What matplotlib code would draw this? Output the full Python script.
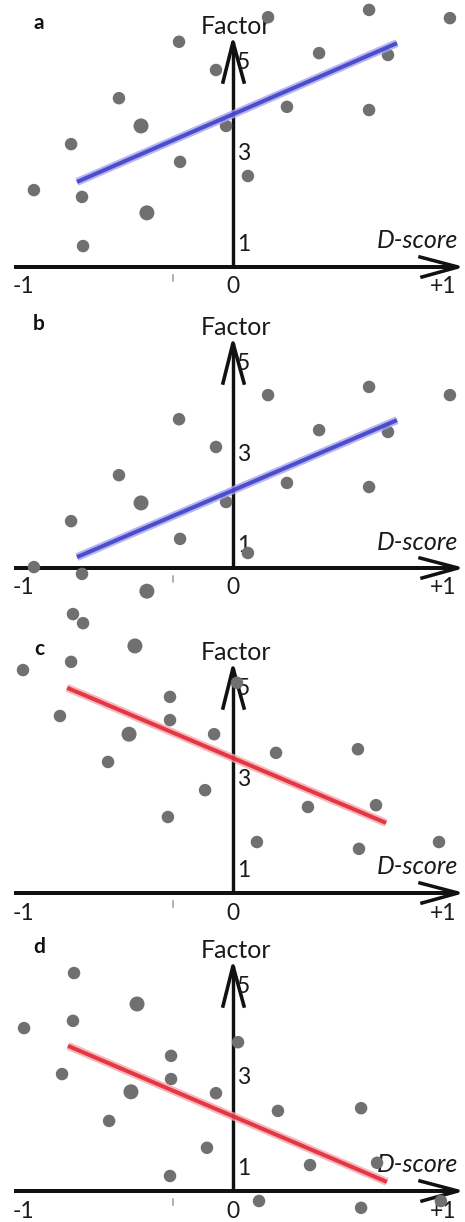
import matplotlib.pyplot as plt

plt.rcParams['font.family'] = ['Lato', 'DejaVu Sans']

W, H = 465, 1222
PX = 0.72          # points per pixel at dpi 100
UNIT_X = 210.0     # pixels per D-score unit
UNIT_Y = 45.5      # pixels per factor unit
Y0 = 0.5           # factor value where the D-score axis crosses

panel_labels = ['a', 'b', 'c', 'd']
axis_rows = [267, 568, 893, 1191]   # pixel row of each D-score axis

# panel a: positive trend
a_x = [0.167, 0.648, 1.033, -0.257, 0.410, 0.738, -0.081, -0.543, 0.257, 0.648,
       -0.438, -0.033, -0.771, -0.252, 0.071, -0.948, -0.719, -0.410, -0.714]
a_y = [5.99, 6.15, 5.97, 5.45, 5.20, 5.16, 4.83, 4.21, 4.02, 3.95,
       3.60, 3.60, 3.20, 2.81, 2.50, 2.19, 2.04, 1.69, 0.96]
a_big = [10, 17]
a_fit_x = [-0.743, 0.781]
a_fit_y = [2.37, 5.42]

# panel b: same pattern, shifted down
b_x = [0.167, 0.648, 1.033, -0.257, 0.410, 0.738, -0.081, -0.543, 0.257, 0.648,
       -0.438, -0.033, -0.771, -0.252, 0.071, -0.948, -0.719, -0.410]
b_y = [4.30, 4.48, 4.30, 3.77, 3.53, 3.49, 3.16, 2.54, 2.37, 2.28,
       1.93, 1.95, 1.53, 1.14, 0.83, 0.52, 0.37, -0.01]
b_big = [10, 17]
b_fit_x = [-0.743, 0.781]
b_fit_y = [0.74, 3.75]

# panel c: negative trend
c_x = [-0.762, -0.714, -0.467, -0.771, -1.000, 0.019, -0.300, -0.824, -0.300, -0.495,
       -0.090, 0.205, 0.595, -0.595, -0.133, 0.357, 0.681, -0.310, 0.114, 0.600, 0.981]
c_y = [6.63, 6.43, 5.93, 5.58, 5.40, 5.12, 4.81, 4.39, 4.30, 3.99,
       3.99, 3.58, 3.66, 3.38, 2.76, 2.39, 2.43, 2.17, 1.62, 1.47, 1.62]
c_big = [2, 9]
c_fit_x = [-0.790, 0.729]
c_fit_y = [5.01, 2.04]

# panel d: negative trend, shifted down
d_x = [-0.757, -0.457, -0.762, -0.995, 0.024, -0.295, -0.814, -0.295, -0.486, -0.081,
       0.214, 0.610, -0.590, -0.124, 0.367, 0.686, -0.300, 0.124, 0.610, 0.990]
d_y = [5.29, 4.61, 4.24, 4.08, 3.77, 3.47, 3.07, 2.96, 2.68, 2.65,
       2.26, 2.32, 2.04, 1.45, 1.07, 1.12, 0.83, 0.28, 0.13, 0.28]
d_big = [1, 8]
d_fit_x = [-0.786, 0.733]
d_fit_y = [3.69, 0.70]

panels = [
    (a_x, a_y, a_big, a_fit_x, a_fit_y, 'blue'),
    (b_x, b_y, b_big, b_fit_x, b_fit_y, 'blue'),
    (c_x, c_y, c_big, c_fit_x, c_fit_y, 'red'),
    (d_x, d_y, d_big, d_fit_x, d_fit_y, 'red'),
]

fit_colours = {'blue': ('#a4a4f2', '#3b3bc6'), 'red': ('#f5a6ab', '#e0202e')}

y_ticks = [1, 3, 5]
x_ticks = [-1, 0, 1]
x_tick_text = ['-1', '0', '+1']

fig = plt.figure(figsize=(W / 100, H / 100), dpi=100)

below, above = 40, 290
for i, (xs, ys, big, fx, fy, col) in enumerate(panels):
    row = axis_rows[i]
    ax = fig.add_axes([0, (H - row - below) / H, 1, (below + above) / H])
    ax.set_xlim(-233 / UNIT_X, (W - 233) / UNIT_X)
    ax.set_ylim(Y0 - below / UNIT_Y, Y0 + above / UNIT_Y)
    ax.axis('off')

    # axes with open arrow heads
    x_left, x_tip = -219 / UNIT_X, 225 / UNIT_X
    y_tip = Y0 + 225 / UNIT_Y
    ax.plot([x_left, x_tip], [Y0, Y0], color='#111111', lw=4 * PX,
            solid_capstyle='butt', clip_on=False)
    ax.plot([x_tip - 38 / UNIT_X, x_tip, x_tip - 36 / UNIT_X],
            [Y0 + 10 / UNIT_Y, Y0, Y0 - 10 / UNIT_Y],
            color='#111111', lw=3.5 * PX, clip_on=False)
    ax.plot([0, 0], [Y0, y_tip], color='#111111', lw=3.4 * PX,
            solid_capstyle='butt', clip_on=False)
    ax.plot([-10 / UNIT_X, 0, 11 / UNIT_X],
            [y_tip - 40 / UNIT_Y, y_tip, y_tip - 40 / UNIT_Y],
            color='#111111', lw=3.6 * PX, clip_on=False)
    ax.plot([-60 / UNIT_X] * 2, [Y0 - 8 / UNIT_Y, Y0 - 14 / UNIT_Y],
            color='#999999', lw=1.5 * PX, clip_on=False)

    # tick labels
    for xv, t in zip(x_ticks, x_tick_text):
        ax.text(xv, Y0 - 20 / UNIT_Y, t, ha='center', va='center',
                fontsize=16.5, color='#1a1a1a')
    for yv in y_ticks:
        ax.text(4 / UNIT_X, yv, str(yv), ha='left', va='center',
                fontsize=16.5, color='#1a1a1a')
    ax.text(3 / UNIT_X, Y0 + 240 / UNIT_Y, 'Factor', ha='center', va='center',
            fontsize=18, color='#1a1a1a')
    ax.text(184 / UNIT_X, Y0 + 26 / UNIT_Y, 'D-score', ha='center', va='center',
            fontsize=18, style='italic', color='#1a1a1a')
    ax.text(-194 / UNIT_X, Y0 + 244 / UNIT_Y, panel_labels[i], ha='center',
            va='center', fontsize=15, fontweight='bold', color='#111111')

    # data points
    sizes = [(15 * PX) ** 2 if k in big else (12.5 * PX) ** 2 for k in range(len(xs))]
    ax.scatter(xs, ys, s=sizes, color='#707070', edgecolors='none',
               zorder=3, clip_on=False)

    # fitted line
    halo, core = fit_colours[col]
    ax.plot(fx, fy, color=halo, lw=8 * PX, alpha=0.8, solid_capstyle='butt',
            zorder=4, clip_on=False)
    ax.plot(fx, fy, color=core, lw=4 * PX, alpha=0.85, solid_capstyle='butt',
            zorder=5, clip_on=False)

fig.savefig('out.png', dpi=100)
